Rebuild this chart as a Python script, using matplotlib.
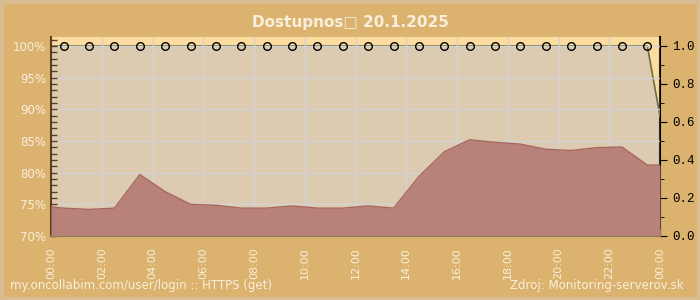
import matplotlib
matplotlib.use('Agg')
import matplotlib.pyplot as plt
from matplotlib.patches import Rectangle
from matplotlib.ticker import MultipleLocator, FuncFormatter

# hours (x) and values
resp_hours = [0, 0.5, 1.5, 2.5, 3.5, 4.5, 5.5, 6.5, 7.5, 8.5, 9.5, 10.5, 11.5,
              12.5, 13.5, 14.5, 15.5, 16.5, 17.5, 18.5, 19.5, 20.5, 21.5, 22.5, 23.5, 24]
resp_pct = [74.6, 74.4, 74.2, 74.4, 79.7, 77.0, 75.0, 74.85, 74.4, 74.4, 74.75, 74.4, 74.4,
            74.75, 74.4, 79.4, 83.3, 85.2, 84.8, 84.5, 83.7, 83.5, 83.95, 84.05, 81.2, 81.2]

avail_hours = [0] + [h + 0.5 for h in range(24)] + [24]
avail = [1.0] * 25 + [0.63]
marker_hours = [h + 0.5 for h in range(24)]
marker_pct = [100] * 24

hour_labels = ['00:00', '02:00', '04:00', '06:00', '08:00', '10:00', '12:00',
               '14:00', '16:00', '18:00', '20:00', '22:00', '00:00']

BG = '#dcb26f'
TXT = '#f8efdc'

fig = plt.figure(figsize=(7, 3), dpi=100, facecolor=BG)
fig.patches.append(Rectangle((0, 0), 1, 1, transform=fig.transFigure, fill=False,
                             edgecolor='#d9bd92', lw=5, zorder=0))

ax = fig.add_axes([51 / 700, 64 / 300, 609 / 700, 199 / 300])
ax2 = ax.twinx()

top_left = 100 + 9 / 190 * 30
top_right = 1.0 + 9 / 190
ax.set_ylim(70, top_left)
ax2.set_ylim(0, top_right)
ax.set_xlim(0, 24)

# availability area (right axis) drawn behind the red area
ax.set_zorder(2)
ax2.set_zorder(1)
ax.patch.set_visible(False)
ax2.patch.set_visible(True)
ax2.set_facecolor('#fddca0')
ax2.fill_between(avail_hours, 0, avail, color='#dccbb1', lw=0)

ax.grid(True, color='#d2d2d2', lw=1)
ax.set_axisbelow(True)
ax.fill_between(resp_hours, 70, resp_pct, color='#b8827a', lw=0, zorder=3)
ax.plot(resp_hours, resp_pct, color='#a8665c', lw=1, zorder=3)

ax2.plot(avail_hours, avail, color='#6b7040', lw=1.2, zorder=5)
ax.plot(marker_hours, marker_pct, ls='none', marker='o', ms=5.5, mfc='none',
        mec='black', mew=1.0, zorder=6)

# left axis
ax.set_yticks([70, 75, 80, 85, 90, 95, 100])
ax.yaxis.set_minor_locator(MultipleLocator(1))
ax.yaxis.set_major_formatter(FuncFormatter(lambda v, p: f'{int(v)}%'))
ax.tick_params(axis='y', which='both', direction='in', colors='#5a4020',
               labelcolor=TXT, labelsize=8.5, length=4, width=1)

# bottom axis
ax.set_xticks(range(0, 25, 2))
ax.set_xticklabels(hour_labels, rotation=90)
ax.xaxis.set_minor_locator(MultipleLocator(1))
ax.tick_params(axis='x', which='major', direction='in', colors='#6b7340',
               labelcolor=TXT, labelsize=8, length=5, pad=8)
ax.tick_params(axis='x', which='minor', direction='in', colors='#6b7340', length=3)

ax.spines['left'].set_color('#5a4020')
ax.spines['left'].set_linewidth(1.5)
ax.spines['bottom'].set_color('#6b7340')
ax.spines['bottom'].set_linewidth(1.5)
for s in ['top', 'right']:
    ax.spines[s].set_visible(False)

# right axis
ax2.set_yticks([0.0, 0.2, 0.4, 0.6, 0.8, 1.0])
ax2.yaxis.set_minor_locator(MultipleLocator(0.1))
ax2.yaxis.set_major_formatter(FuncFormatter(lambda v, p: f'{v:.1f}'))
ax2.tick_params(axis='y', which='major', direction='out', colors='black',
                labelsize=9, length=5)
ax2.tick_params(axis='y', which='minor', direction='out', colors='black', length=3)
for lbl in ax2.get_yticklabels():
    lbl.set_family('Liberation Mono')
ax2.spines['right'].set_color('black')
ax2.spines['right'].set_linewidth(1.5)
for s in ['top', 'left', 'bottom']:
    ax2.spines[s].set_visible(False)

fig.text(0.5, 1 - 22 / 300, 'Dostupnos\u25a1 20.1.2025', ha='center', va='center',
         color=TXT, fontsize=11, fontweight='bold')
fig.text(10 / 700, 1 - 286 / 300, 'my.oncollabim.com/user/login :: HTTPS (get)',
         ha='left', va='center', color=TXT, fontsize=8.5)
fig.text(684 / 700, 1 - 286 / 300, 'Zdroj: Monitoring-serverov.sk',
         ha='right', va='center', color=TXT, fontsize=8.5)

fig.savefig('out.png', dpi=100, facecolor=BG)
